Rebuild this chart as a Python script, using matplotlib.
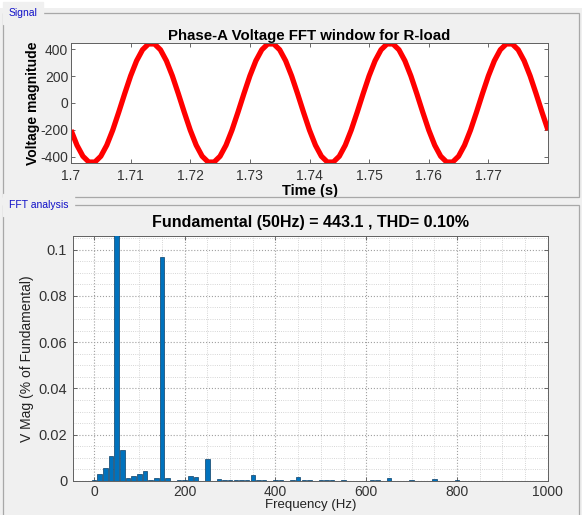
import numpy as np
import matplotlib
matplotlib.use('Agg')
import matplotlib.pyplot as plt
from matplotlib.patches import Rectangle
from matplotlib.ticker import MultipleLocator

plt.rcParams['font.family'] = ['Liberation Sans', 'DejaVu Sans']
plt.rcParams['axes.unicode_minus'] = False

# signal samples, every 1 ms from 1.700 s to 1.780 s
t_start, t_step = 1.7, 0.001
voltage = [-201, -313, -395, -438, -438, -395, -313, -201, -69, 69,
           201, 313, 395, 438, 438, 395, 313, 201, 69, -69,
           -201, -313, -395, -438, -438, -395, -313, -201, -69, 69,
           201, 313, 395, 438, 438, 395, 313, 201, 69, -69,
           -201, -313, -395, -438, -438, -395, -313, -201, -69, 69,
           201, 313, 395, 438, 438, 395, 313, 201, 69, -69,
           -201, -313, -395, -438, -438, -395, -313, -201, -69, 69,
           201, 313, 395, 438, 438, 395, 313, 201, 69, -69,
           -201]

# FFT bins, 12.5 Hz resolution (4-cycle window), % of fundamental
bin_hz = 12.5
v_mag = [0.0004, 0.0029, 0.0055, 0.0110, 100.0, 0.0134, 0.0014, 0.0022, 0.0029, 0.0043,
         0.0004, 0.0014, 0.0967, 0.0012, 0.0001, 0.0004, 0.0004, 0.0022, 0.0016, 0.0001,
         0.0094, 0.0001, 0.0007, 0.0006, 0.0004, 0.0004, 0.0006, 0.0004, 0.0026, 0.0004,
         0.0006, 0.0001, 0.0004, 0.0006, 0.0001, 0.0004, 0.0016, 0.0003, 0.0005, 0.0002,
         0.0005, 0.0004, 0.0004, 0.0002, 0.0003, 0.0001, 0.0002, 0.0001, 0.0002, 0.0003,
         0.0003, 0.0002, 0.0013, 0.0002, 0.0001, 0.0002, 0.0005, 0.0002, 0.0001, 0.0002,
         0.0008, 0.0002, 0.0001, 0.0002, 0.0003, 0.0002, 0.0001, 0.0001, 0.0001, 0.0001,
         0.0001, 0.0001, 0.0001, 0.0001, 0.0001, 0.0001, 0.0001, 0.0001, 0.0001, 0.0001,
         0.0001]

W, H = 582, 515


def fx(px):
    return px / W


def fy(py):
    return 1 - py / H


def panel(fig, top, bottom, label):
    fig.add_artist(Rectangle((fx(3), fy(bottom)), fx(576), (bottom - top) / H,
                             transform=fig.transFigure, fill=False,
                             edgecolor='#a8a8a8', linewidth=0.9))
    fig.text(fx(9), fy(top), label, color='#1010c8', fontsize=7.5,
             ha='left', va='center', backgroundcolor='#f0f0f0')


def style_axes(ax, size):
    for s in ax.spines.values():
        s.set_color('#606060')
        s.set_linewidth(0.7)
    ax.tick_params(direction='in', top=True, right=True, length=3,
                   width=0.6, color='#505050', labelsize=size,
                   labelcolor='#333333')


fig = plt.figure(figsize=(W / 100, H / 100), dpi=100, facecolor='#f0f0f0')
fig.add_artist(Rectangle((0, fy(8)), 1, 8 / H, transform=fig.transFigure,
                         facecolor='white', edgecolor='none'))
panel(fig, 13, 197, 'Signal')
panel(fig, 205, 530, 'FFT analysis')

# signal
t = t_start + t_step * np.arange(len(voltage))
ax1 = fig.add_axes([fx(71), fy(163), fx(477), 120 / H])
ax1.plot(t, voltage, color='red', linewidth=3.8, solid_joinstyle='round',
         solid_capstyle='butt')
ax1.set_xlim(1.7, 1.78)
ax1.set_ylim(-445, 445)
ax1.set_xticks([1.7, 1.71, 1.72, 1.73, 1.74, 1.75, 1.76, 1.77])
ax1.set_xticklabels(['1.7', '1.71', '1.72', '1.73', '1.74', '1.75', '1.76', '1.77'])
ax1.set_yticks([-400, -200, 0, 200, 400])
style_axes(ax1, 10)
ax1.tick_params(axis='y', pad=2)
ax1.tick_params(axis='x', pad=4)
ax1.set_title('Phase-A Voltage FFT window for R-load', fontsize=10.8,
              fontweight='bold', pad=2)
ax1.set_ylabel('Voltage magnitude', fontsize=10, fontweight='bold', labelpad=0)
ax1.set_xlabel('Time (s)', fontsize=10.5, fontweight='bold', labelpad=1)

# FFT
freqs = bin_hz * np.arange(len(v_mag))
ax2 = fig.add_axes([fx(72.7), fy(481), fx(475), 245.3 / H])
ax2.bar(freqs, v_mag, width=10, color='#0072BD', edgecolor='#0b3e66',
        linewidth=0.5, zorder=3)
ax2.set_xlim(-47, 1000)
ax2.set_ylim(0, 0.106)
ax2.set_xticks([0, 200, 400, 600, 800, 1000])
ax2.set_yticks([0, 0.02, 0.04, 0.06, 0.08, 0.1])
ax2.set_yticklabels(['0', '0.02', '0.04', '0.06', '0.08', '0.1'])
ax2.xaxis.set_minor_locator(MultipleLocator(50))
ax2.yaxis.set_minor_locator(MultipleLocator(0.005))
ax2.grid(True, which='major', linestyle=':', color='#a0a0a0', linewidth=0.8)
ax2.grid(True, which='minor', linestyle=':', color='#c8c8c8', linewidth=0.6)
ax2.tick_params(which='minor', length=0)
style_axes(ax2, 10.5)
ax2.tick_params(axis='x', pad=3, labelsize=10)
ax2.tick_params(axis='y', pad=4)
ax2.set_title('Fundamental (50Hz) = 443.1 , THD= 0.10%', fontsize=11.5,
              fontweight='bold', pad=6)
ax2.set_ylabel('V Mag (% of Fundamental)', fontsize=10, labelpad=3,
               color='#222222')
ax2.set_xlabel('Frequency (Hz)', fontsize=9.5, labelpad=0, color='#222222')

fig.savefig('out.png', dpi=100, facecolor=fig.get_facecolor())
